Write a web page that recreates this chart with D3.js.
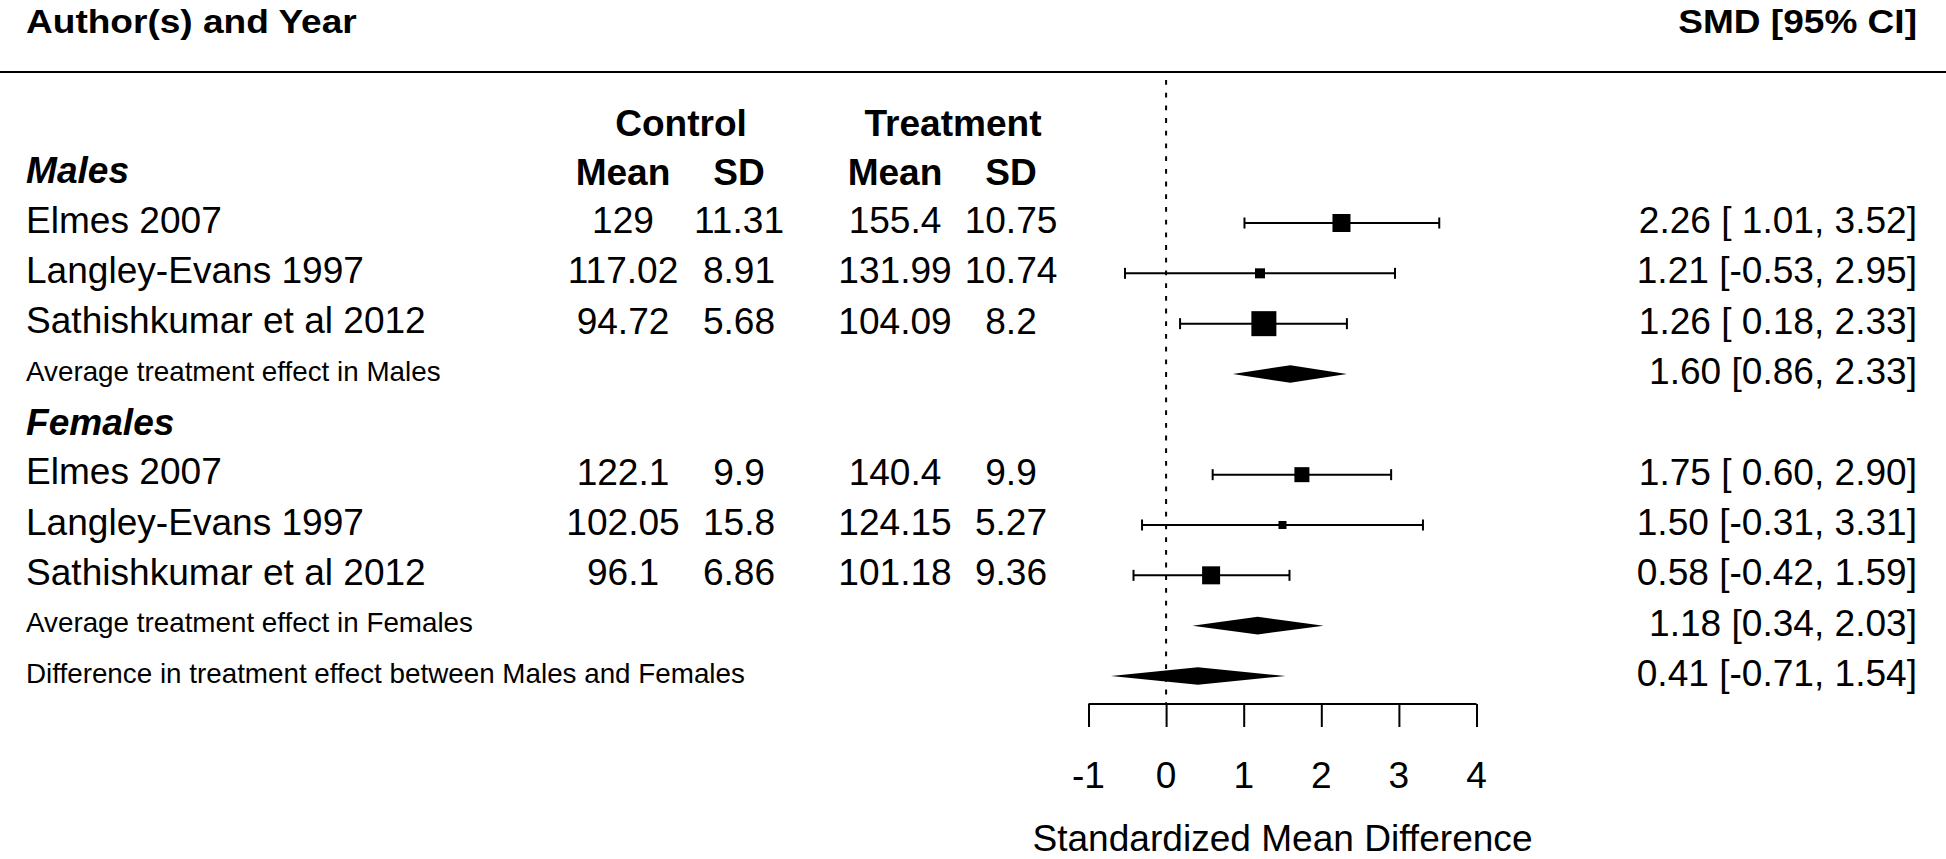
<!DOCTYPE html>
<html><head><meta charset="utf-8">
<script src="https://cdn.jsdelivr.net/npm/d3@7"></script>
<style>
html,body{margin:0;padding:0;background:#fff;}
text{font-family:"Liberation Sans",Arial,sans-serif;fill:#000;white-space:pre;}
</style></head>
<body><svg id="c" width="1946" height="859"></svg>
<script>
// ---- data ----
const groups = ["Males", "Females"];
const studies = ["Elmes 2007", "Langley-Evans 1997", "Sathishkumar et al 2012",
                 "Elmes 2007", "Langley-Evans 1997", "Sathishkumar et al 2012"];
const studyGroup = ["Males", "Males", "Males", "Females", "Females", "Females"];
const ctrlMean = [129, 117.02, 94.72, 122.1, 102.05, 96.1];
const ctrlSD = [11.31, 8.91, 5.68, 9.9, 15.8, 6.86];
const trtMean = [155.4, 131.99, 104.09, 140.4, 124.15, 101.18];
const trtSD = [10.75, 10.74, 8.2, 9.9, 5.27, 9.36];
const smd = [2.26, 1.21, 1.26, 1.75, 1.50, 0.58];
const ciLo = [1.01, -0.53, 0.18, 0.60, -0.31, -0.42];
const ciHi = [3.52, 2.95, 2.33, 2.90, 3.31, 1.59];
const weights = [36, 20, 50, 30, 16, 36]; // relative study weights (square size)
const summaryLabels = ["Average treatment effect in Males",
                       "Average treatment effect in Females",
                       "Difference in treatment effect between Males and Females"];
const summaryEst = [1.60, 1.18, 0.41];
const summaryLo = [0.86, 0.34, -0.71];
const summaryHi = [2.33, 2.03, 1.54];
const xTicks = [-1, 0, 1, 2, 3, 4];
const studyRows = [12, 11, 10, 7, 6, 5];
const groupRows = [13, 8];
const summaryRows = [9, 4, 3];

// ---- layout ----
const svg = d3.select("#c");
const SX = 1.03;
const FS = 36, FS_SMALL = 27;
const x = d3.scaleLinear().domain([-1, 4]).range([1088.5, 1476.5]);
const y = d3.scaleLinear().domain([12, 3]).range([223, 676]);
const sq = d3.scaleLinear().domain([0, 50]).range([0, 25]);
const colX = {cm: 623, cs: 739, tm: 895, ts: 1011};
const leftX = 26, rightX = 1917;

function txt(px, py, s, o = {}) {
  return svg.append("text")
    .attr("transform", `translate(${px},${py}) scale(${o.sx || SX},1)`)
    .attr("text-anchor", o.anchor || "start")
    .attr("font-size", o.size || FS)
    .attr("font-weight", o.weight || "normal")
    .attr("font-style", o.style || "normal")
    .text(s);
}
const fmt2 = d3.format(".2f");
const f2 = v => fmt2(v).replace("\u2212", "-");
function ann(e, l, h, pad) {
  const ls = (pad && l >= 0 ? " " : "") + f2(l);
  return `${f2(e)} [${ls}, ${f2(h)}]`;
}

// headers
txt(leftX, 33, "Author(s) and Year", {weight: "bold", size: 34, sx: 1.09});
txt(rightX, 33, "SMD [95% CI]", {weight: "bold", anchor: "end", size: 34, sx: 1.09});
svg.append("line").attr("x1", 0).attr("x2", 1946).attr("y1", 72).attr("y2", 72)
  .attr("stroke", "#000").attr("stroke-width", 2.2);

// reference line at 0
svg.append("line").attr("x1", x(0)).attr("x2", x(0)).attr("y1", 80).attr("y2", 704)
  .attr("stroke", "#000").attr("stroke-width", 2).attr("stroke-dasharray", "4.8 7.9");

txt((colX.cm + colX.cs) / 2, y(14) + 13.5, "Control", {weight: "bold", anchor: "middle"});
txt((colX.tm + colX.ts) / 2, y(14) + 13.5, "Treatment", {weight: "bold", anchor: "middle"});
[["cm", "Mean"], ["cs", "SD"], ["tm", "Mean"], ["ts", "SD"]].forEach(([k, s]) =>
  txt(colX[k], y(13) + 12.5, s, {weight: "bold", anchor: "middle"}));

groups.forEach((g, i) => txt(leftX, y(groupRows[i]) + 10.5, g, {weight: "bold", style: "italic"}));

// studies
studies.forEach((s, i) => {
  const ry = y(studyRows[i]);
  txt(leftX, ry + 9.5, s);
  txt(colX.cm, ry + 10, String(ctrlMean[i]), {anchor: "middle"});
  txt(colX.cs, ry + 10, String(ctrlSD[i]), {anchor: "middle"});
  txt(colX.tm, ry + 10, String(trtMean[i]), {anchor: "middle"});
  txt(colX.ts, ry + 10, String(trtSD[i]), {anchor: "middle"});
  txt(rightX, ry + 10, ann(smd[i], ciLo[i], ciHi[i], true), {anchor: "end"});
  const g = svg.append("g").attr("stroke", "#000").attr("stroke-width", 2);
  g.append("line").attr("x1", x(ciLo[i])).attr("x2", x(ciHi[i])).attr("y1", ry).attr("y2", ry);
  [ciLo[i], ciHi[i]].forEach(v => g.append("line").attr("x1", x(v)).attr("x2", x(v))
    .attr("y1", ry - 5.5).attr("y2", ry + 5.5));
  const s2 = sq(weights[i]);
  svg.append("rect").attr("x", x(smd[i]) - s2 / 2).attr("y", ry - s2 / 2)
    .attr("width", s2).attr("height", s2).attr("fill", "#000");
});

// summaries
summaryLabels.forEach((s, i) => {
  const ry = y(summaryRows[i]);
  txt(leftX, ry + 6.5, s, {size: FS_SMALL});
  txt(rightX, ry + 10, ann(summaryEst[i], summaryLo[i], summaryHi[i], false), {anchor: "end"});
  const h = 8.8;
  svg.append("path")
    .attr("d", `M${x(summaryLo[i])},${ry}L${x(summaryEst[i])},${ry - h}L${x(summaryHi[i])},${ry}L${x(summaryEst[i])},${ry + h}Z`)
    .attr("fill", "#000");
});

// axis
const ax = svg.append("g").attr("transform", "translate(0,704)")
  .call(d3.axisBottom(x).tickValues(xTicks).tickSize(23).tickSizeOuter(0));
ax.select(".domain").attr("stroke-width", 2).attr("d", `M${x(-1)},0H${x(4)}`);
ax.selectAll(".tick line").attr("stroke-width", 2);
ax.selectAll(".tick text").remove();
xTicks.forEach(t => txt(x(t), 788, String(t), {anchor: "middle"}));
txt((x(-1) + x(4)) / 2, 851, "Standardized Mean Difference", {anchor: "middle"});
</script></body></html>
